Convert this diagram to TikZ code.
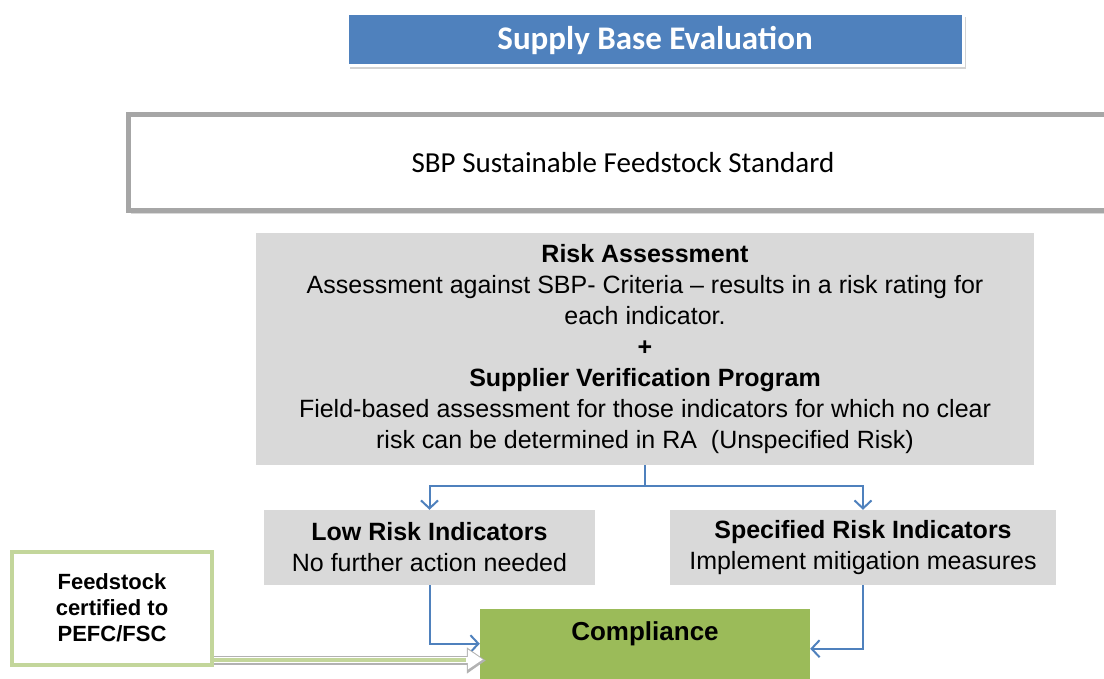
\documentclass[tikz,border=0pt]{standalone}
\usepackage{fontspec}
\setmainfont{Liberation Sans}
\newfontfamily\calibri{Carlito}
\usetikzlibrary{arrows.meta,shadows}
\definecolor{sbpblue}{HTML}{4F81BD}
\definecolor{sbpgray}{HTML}{D9D9D9}
\definecolor{sbpgreen}{HTML}{9BBB59}
\definecolor{sbplight}{HTML}{C3D69B}
\begin{document}
\begin{tikzpicture}[x=1pt,y=-1pt,
  graybox/.style={fill=sbpgray,inner sep=0pt,align=center,font=\fontsize{25}{31}\selectfont},
  flow/.style={draw=sbpblue,line width=2pt,-{Straight Barb[length=8pt,width=17pt]}}]
\useasboundingbox (0,0) rectangle (1104,679);
\clip (0,0) rectangle (1104,679);
\node[fill=sbpblue,draw=white,line width=3pt,drop shadow={opacity=0.35},minimum width=616pt,minimum height=52pt,text=white,font=\calibri\bfseries\fontsize{33}{36}\selectfont] (title) at (655,40) {Supply Base Evaluation};
\node[draw=black!35,line width=5pt,fill=white,drop shadow={opacity=0.3},minimum width=990pt,minimum height=96pt,font=\calibri\fontsize{29}{32}\selectfont] (sbp) at (623,163) {SBP Sustainable Feedstock Standard};
\node[graybox,minimum width=778pt,minimum height=232pt] (ra) at (645,349) {\textbf{Risk Assessment}\\Assessment against SBP- Criteria -- results in a risk rating for\\each indicator.\\\textbf{+}\\\textbf{Supplier Verification Program}\\Field-based assessment for those indicators for which no clear\\risk can be determined in RA \ (Unspecified Risk)};
\node[graybox,minimum width=331pt,minimum height=75pt] (low) at (429.5,547.5) {\textbf{Low Risk Indicators}\\No further action needed};
\node[graybox,minimum width=386pt,minimum height=75pt] (spec) at (863,547.5) {\textbf{Specified Risk Indicators}\\Implement mitigation measures};
\node[fill=sbpgreen,anchor=north,inner sep=0pt,minimum width=330pt,text height=31pt,text depth=40pt,font=\bfseries\fontsize{26}{30}\selectfont] (comp) at (645,609) {Compliance};
\node[draw=sbplight,line width=4pt,fill=white,minimum width=200pt,minimum height=113pt,align=center,font=\bfseries\fontsize{22}{26}\selectfont] (feed) at (112,608) {Feedstock\\certified to\\PEFC/FSC};
\draw[flow] (ra.south) -- ++(0,21) -| (low.north);
\draw[flow] (ra.south) -- ++(0,21) -| (spec.north);
\draw[flow] (low.south) |- ([yshift=1pt]comp.west);
\draw[flow] (spec.south) |- ([yshift=-4pt]comp.east);
\coordinate (fs) at ([yshift=7pt]feed.south east);
\draw[line width=9pt,black!30,-{Triangle[length=19pt,width=25pt]}] ([yshift=-1pt]fs) -- ([yshift=-1pt,xshift=6pt]fs -| comp.west);
\draw[line width=6pt,white,shorten >=2pt,-{Triangle[length=15pt,width=19pt]}] (fs) -- ([xshift=5pt]fs -| comp.west);
\draw[line width=4pt,sbplight,shorten >=19pt] (fs) -- ([xshift=5pt]fs -| comp.west);
\end{tikzpicture}
\end{document}
